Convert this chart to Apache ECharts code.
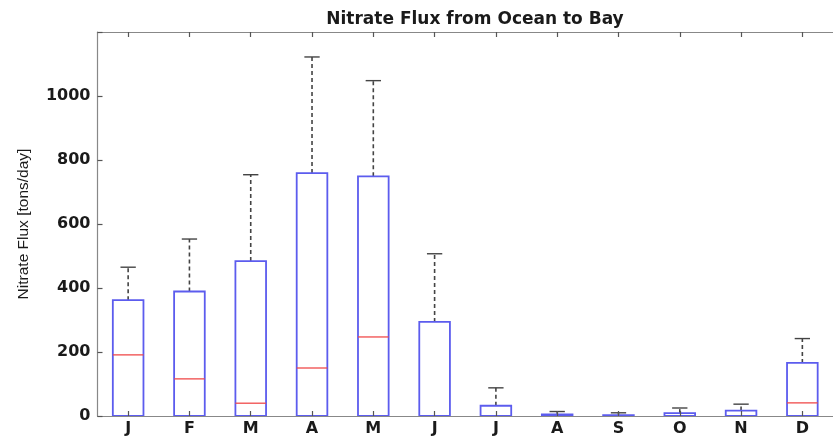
<!DOCTYPE html>
<html>
<head>
<meta charset="utf-8">
<script src="https://cdn.jsdelivr.net/npm/echarts@6/dist/echarts.min.js"></script>
<style>html,body{margin:0;padding:0;background:#fff}#c{width:833px;height:437px}</style>
</head>
<body>
<div id="c"></div>
<script>
var months = ['J','F','M','A','M','J','J','A','S','O','N','D'];
var minVals    = [0, 0, 0, 0, 0, 0, 0, 0, 0, 0, 0, 0];
var q1Vals     = [0, 0, 0, 0, 0, 0, 0, 0, 0, 0, 0, 0];
var medianVals = [191, 116, 40, 150, 247, 0, 0, 0, 0, 0, 0, 41];
var q3Vals     = [362, 389, 484, 759, 749, 294, 32, 5, 3, 9, 17, 166];
var maxVals    = [465, 553, 754, 1122, 1048, 507, 88, 14, 10, 25, 37, 242];
var yTicks = [0, 200, 400, 600, 800, 1000];

var data = months.map(function (m, i) {
  return [i, minVals[i], q1Vals[i], medianVals[i], q3Vals[i], maxVals[i]];
});

function renderItem(params, api) {
  var i = api.value(0);
  var band = api.size([1, 0])[0];
  var bw = band * 0.5, cw = band * 0.25;
  var cx = api.coord([i, 0])[0];
  var yMin = api.coord([i, api.value(1)])[1];
  var yQ1 = api.coord([i, api.value(2)])[1];
  var yMed = api.coord([i, api.value(3)])[1];
  var yQ3 = api.coord([i, api.value(4)])[1];
  var yMax = api.coord([i, api.value(5)])[1];
  var dash = {stroke: '#444', lineWidth: 1.6, lineDash: [4, 3], fill: null};
  var cap = {stroke: '#444', lineWidth: 1.4};
  var children = [
    {type: 'line', shape: {x1: cx, y1: yQ3, x2: cx, y2: yMax}, style: dash},
    {type: 'line', shape: {x1: cx - cw / 2, y1: yMax, x2: cx + cw / 2, y2: yMax}, style: cap},
    {type: 'rect', shape: {x: cx - bw / 2, y: yQ3, width: bw, height: yQ1 - yQ3},
      style: {fill: null, stroke: '#5c5cee', lineWidth: 1.8}}
  ];
  if (api.value(3) > api.value(2)) {
    children.push({type: 'line', shape: {x1: cx - bw / 2, y1: yMed, x2: cx + bw / 2, y2: yMed},
      style: {stroke: '#f04a4a', lineWidth: 1.3}});
  }
  return {type: 'group', children: children};
}

var labelFont = {fontFamily: 'DejaVu Sans', fontSize: 16, fontWeight: 'bold', color: '#1a1a1a'};
var chart = echarts.init(document.getElementById('c'), null, {renderer: 'canvas'});
chart.setOption({
  animation: false,
  backgroundColor: '#fff',
  title: {
    text: 'Nitrate Flux from Ocean to Bay',
    left: 470, textAlign: 'center', top: 6,
    textStyle: {fontFamily: 'DejaVu Sans', fontSize: 17, fontWeight: 'bold', color: '#1a1a1a'}
  },
  grid: {left: 97.5, right: -12.5, top: 32, bottom: 19.5, containLabel: false},
  xAxis: [{
    type: 'category', data: months, position: 'bottom', boundaryGap: true, z: 5,
    axisLine: {lineStyle: {color: '#888', width: 1.2}},
    axisTick: {show: true, inside: true, alignWithLabel: true, length: 5, lineStyle: {color: '#555', width: 1.2}},
    axisLabel: Object.assign({margin: 5, interval: 0}, labelFont)
  }, {
    type: 'category', data: months, position: 'top', boundaryGap: true, z: 5,
    axisLine: {show: true, lineStyle: {color: '#888', width: 1.2}},
    axisTick: {show: true, inside: true, alignWithLabel: true, length: 5, lineStyle: {color: '#555', width: 1.2}},
    axisLabel: {show: false}
  }],
  yAxis: {
    type: 'value', min: 0, max: 1200, interval: 200, z: 5,
    name: 'Nitrate Flux [tons/day]', nameLocation: 'middle', nameGap: 66,
    nameTextStyle: {fontFamily: 'Liberation Sans', fontSize: 15.5, color: '#1a1a1a'},
    axisLine: {show: true, lineStyle: {color: '#888', width: 1.2}},
    axisTick: {show: true, inside: true, length: 5, lineStyle: {color: '#555', width: 1.2}},
    splitLine: {show: false},
    axisLabel: Object.assign({
      margin: 7,
      formatter: function (v) { return yTicks.indexOf(v) >= 0 ? String(v) : ''; }
    }, labelFont)
  },
  series: [{
    type: 'custom', renderItem: renderItem, data: data, z: 2,
    encode: {x: 0, y: [1, 2, 3, 4, 5]}
  }]
});
</script>
</body>
</html>
